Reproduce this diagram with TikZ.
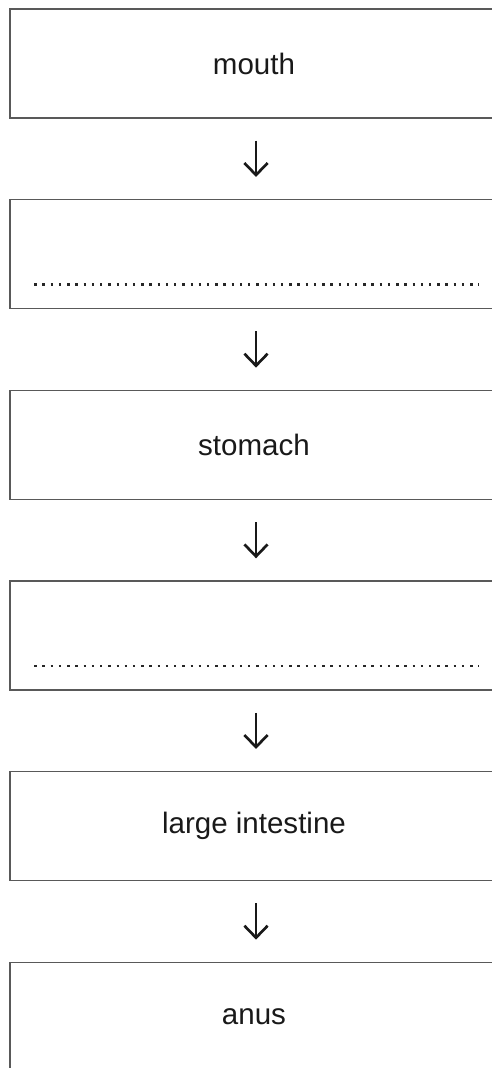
\documentclass[tikz,border=0pt]{standalone}
\usepackage{fontspec}
\setmainfont{Liberation Sans}
\usetikzlibrary{positioning,arrows.meta}
\begin{document}
\begin{tikzpicture}[>={Straight Barb[length=.3cm,width=.58cm]},
    organ/.style={draw=black!65, line width=1.05pt, minimum width=12.2cm, minimum height=2.725cm,
        text=black!90, font=\fontsize{21}{25}\selectfont},
    dotline/.style={line width=1.7pt, dash pattern=on 1.7pt off 4.15pt, black!85},
    node distance=2.005cm]
\useasboundingbox (0,0) rectangle (12.3,-26.7);
\clip (0,0) rectangle (12.3,-26.7);

\node[organ] (mouth) at (6.35,-1.5875) {mouth};
\node[organ, below=of mouth] (gullet) {};
\node[organ, below=of gullet] (stomach) {stomach};
\node[organ, below=of stomach] (smallint) {};
\node[organ, below=of smallint] (largeint) {large intestine};
\node[organ, below=of largeint] (anus) {anus};

\foreach \b in {gullet,smallint}
{
    \draw[dotline] ([shift={(.625,.625)}]\b.south west)--([shift={(-.5,.625)}]\b.south east);
}

\foreach \a/\b in {mouth/gullet,gullet/stomach,stomach/smallint,smallint/largeint,largeint/anus}
{
    \draw[->, line width=1.9pt, black!90, shorten <=.55cm, shorten >=.55cm] ([xshift=.05cm]\a.south)--([xshift=.05cm]\b.north);
}

\end{tikzpicture}
\end{document}
